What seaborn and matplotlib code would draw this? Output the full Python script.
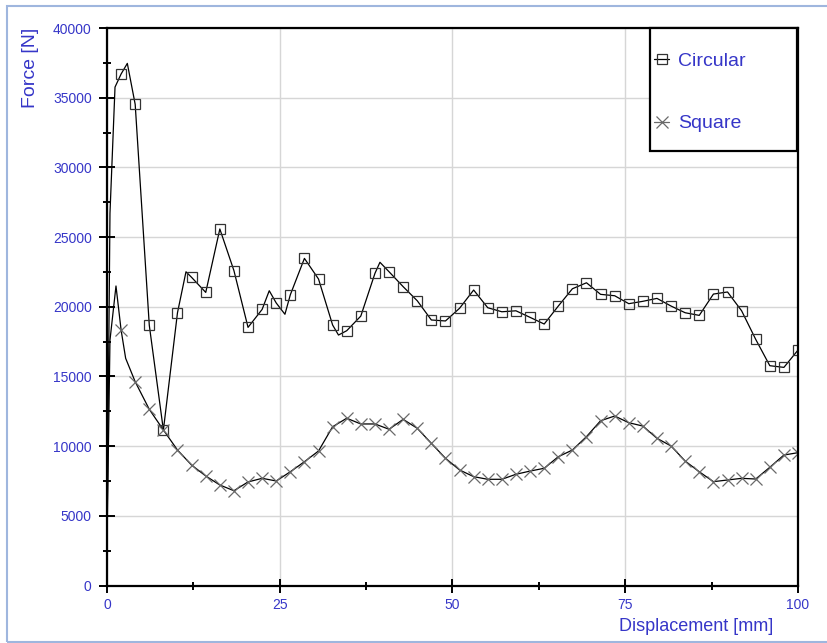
import numpy as np
import pandas as pd
import seaborn as sns
import matplotlib.pyplot as plt
from matplotlib.lines import Line2D
from matplotlib.patches import Rectangle
from matplotlib.ticker import MultipleLocator, AutoMinorLocator

# marker positions
marker_x = [2.04, 4.08, 6.12, 8.16, 10.2, 12.24, 14.29, 16.33, 18.37, 20.41,
            22.45, 24.49, 26.53, 28.57, 30.61, 32.65, 34.69, 36.73, 38.78, 40.82,
            42.86, 44.9, 46.94, 48.98, 51.02, 53.06, 55.1, 57.14, 59.18, 61.22,
            63.27, 65.31, 67.35, 69.39, 71.43, 73.47, 75.51, 77.55, 79.59, 81.63,
            83.67, 85.71, 87.76, 89.8, 91.84, 93.88, 95.92, 97.96, 100.0]

circular_y = [36700, 34520, 18670, 11150, 19570, 22110, 21030, 25580, 22590, 18520,
              19810, 20270, 20860, 23470, 21990, 18690, 18280, 19330, 22400, 22510,
              21440, 20430, 19050, 18980, 19890, 21200, 19930, 19640, 19710, 19240,
              18760, 20050, 21290, 21720, 20890, 20790, 20220, 20390, 20600, 20050,
              19570, 19380, 20910, 21060, 19710, 17660, 15770, 15650, 16890]

square_y = [18330, 14620, 12640, 11160, 9720, 8640, 7860, 7210, 6800, 7430,
            7690, 7500, 8160, 8880, 9650, 11390, 12000, 11590, 11590, 11210,
            11920, 11280, 10200, 9130, 8290, 7810, 7620, 7620, 7980, 8210,
            8410, 9240, 9720, 10680, 11820, 12160, 11680, 11440, 10560, 10010,
            8930, 8160, 7450, 7570, 7690, 7640, 8480, 9360, 9530]

# extra points of the curves between markers (start, peaks, dips)
circular_extra_x = [0.0, 0.43, 1.16, 2.94, 11.43, 23.48, 25.75, 33.5, 39.5]
circular_extra_y = [3000, 26700, 35760, 37460, 22510, 21150, 19460, 17970, 23190]
square_extra_x = [0.0, 0.43, 1.3, 2.7]
square_extra_y = [3000, 17600, 21490, 16300]

blue = '#3636c8'

circ = pd.DataFrame({'x': marker_x + circular_extra_x, 'y': circular_y + circular_extra_y}).sort_values('x')
sq = pd.DataFrame({'x': marker_x + square_extra_x, 'y': square_y + square_extra_y}).sort_values('x')

sns.set_theme(style='white')
plt.rcParams['font.family'] = ['Liberation Sans', 'DejaVu Sans']

fig = plt.figure(figsize=(8.28, 6.43), dpi=100)
ax = fig.add_axes([107 / 828, 1 - 585.5 / 643, 691 / 828, 557.5 / 643])

# lines
sns.lineplot(x='x', y='y', data=circ, ax=ax, color='black', lw=0.9, estimator=None, sort=True)
sns.lineplot(x='x', y='y', data=sq, ax=ax, color='black', lw=0.9, estimator=None, sort=True)

# markers
sns.lineplot(x=marker_x, y=circular_y, ax=ax, estimator=None, linestyle='none', marker='s',
             markersize=7.5, markerfacecolor='none', markeredgecolor='#333333', markeredgewidth=0.9)
sns.lineplot(x=marker_x, y=square_y, ax=ax, estimator=None, linestyle='none', marker='x',
             markersize=8.5, markeredgecolor='#6a6a6a', markeredgewidth=0.9)

ax.set_xlim(0, 100)
ax.set_ylim(0, 40000)
ax.xaxis.set_major_locator(MultipleLocator(25))
ax.yaxis.set_major_locator(MultipleLocator(5000))
ax.xaxis.set_minor_locator(AutoMinorLocator(2))
ax.yaxis.set_minor_locator(AutoMinorLocator(2))
ax.grid(True, which='major', color='#d6d6d6', lw=1)

ax.tick_params(axis='y', which='major', direction='inout', length=12, width=1.4,
               color='black', labelcolor=blue, labelsize=10, pad=5, left=True)
ax.tick_params(axis='y', which='minor', direction='inout', length=6, width=1.4,
               color='black', left=True)
ax.tick_params(axis='x', which='major', direction='inout', length=10, width=1.4,
               color='black', labelcolor=blue, labelsize=10, pad=4, bottom=True)
ax.tick_params(axis='x', which='minor', direction='inout', length=6, width=1.4,
               color='black', bottom=True)

for s in ax.spines.values():
    s.set_color('black')
    s.set_linewidth(1.6)

ax.set_xlabel('Displacement [mm]', color=blue, fontsize=13, loc='right')
ax.xaxis.set_label_coords(0.9638, -0.058)
ax.set_ylabel('Force [N]', color=blue, fontsize=14, loc='top')
ax.yaxis.set_label_coords(-0.099, 1.0)

# legend box
ax.add_patch(Rectangle((0.7858, 0.7794), 0.2127, 0.2206, transform=ax.transAxes,
                       facecolor='white', edgecolor='black', lw=1.6, zorder=4, clip_on=False))

handles = [
    Line2D([], [], color='black', lw=0.9, marker='s', markersize=7,
           markerfacecolor='none', markeredgecolor='#333333', markeredgewidth=0.9),
    Line2D([], [], color='#6a6a6a', lw=0.9, marker='x', markersize=8.5,
           markeredgecolor='#6a6a6a', markeredgewidth=0.9),
]
leg = ax.legend(handles, ['Circular', 'Square'], loc='upper left',
                bbox_to_anchor=(0.7858, 0.9632), borderaxespad=0, fontsize=14,
                frameon=False, borderpad=0.2,
                labelspacing=2.3, handlelength=0.8, handletextpad=0.45)
leg.set_zorder(5)
for t in leg.get_texts():
    t.set_color(blue)

fig.add_artist(Rectangle((7.5 / 828, 1 - 641.5 / 643), 830 / 828, 636 / 643,
                         transform=fig.transFigure, fill=False, edgecolor='#9fb6de', lw=1.5))

fig.savefig('out.png', dpi=100)
